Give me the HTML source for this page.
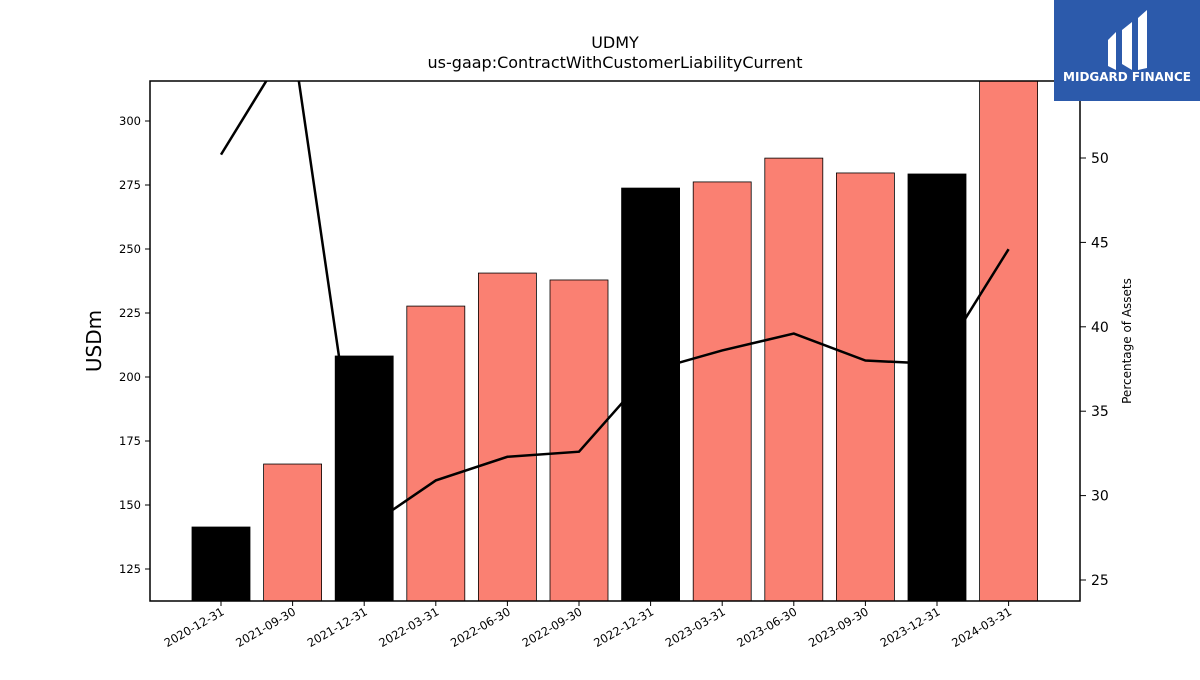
<!DOCTYPE html>
<html><head><meta charset="utf-8"><style>
body{margin:0;background:#fff;font-family:"Liberation Sans","DejaVu Sans",sans-serif}
svg text{font-family:"DejaVu Sans","Liberation Sans",sans-serif}
</style></head><body>
<svg id="chart" width="1200" height="675" xmlns="http://www.w3.org/2000/svg">
<rect width="1200" height="675" fill="#fff"/>
<text x="615" y="48" font-size="16" text-anchor="middle">UDMY</text>
<text x="615" y="68" font-size="16" text-anchor="middle">us-gaap:ContractWithCustomerLiabilityCurrent</text>
<defs><clipPath id="pc"><rect x="150" y="81" width="930" height="520"/></clipPath></defs>
<g id="bars" clip-path="url(#pc)"></g>
<g id="line" clip-path="url(#pc)"></g>
<rect x="150" y="81" width="930" height="520" fill="none" stroke="#000" stroke-width="1.5"/>
<g id="axes"></g>
<text transform="translate(101,341) rotate(-90)" font-size="20" text-anchor="middle">USDm</text>
<text transform="translate(1131,341) rotate(-90)" font-size="12" text-anchor="middle">Percentage of Assets</text>
<g>
<rect x="1054" y="0" width="146" height="101" fill="#2c5aab"/>
<path d="M1108 40 L1116 32 L1116 70 L1108 66 Z M1122 30 L1132 22 L1132 70 L1122 64 Z M1138 18 L1147 10 L1147 68 L1138 70 Z" fill="#fff"/>
<text x="1127" y="81" font-size="12" font-weight="bold" fill="#fff" text-anchor="middle">MIDGARD FINANCE</text>
</g>
</svg>
<script>
const categories=["2020-12-31","2021-09-30","2021-12-31","2022-03-31","2022-06-30","2022-09-30","2022-12-31","2023-03-31","2023-06-30","2023-09-30","2023-12-31","2024-03-31"];
const barValues=[141.4,166,208.2,227.7,240.6,237.9,273.8,276.2,285.5,279.7,279.3,320];
const pctValues=[50.2,57.1,28.0,30.9,32.3,32.6,37.4,38.6,39.6,38.0,37.8,44.6];
const leftTicks=[125,150,175,200,225,250,275,300];
const rightTicks=[25,30,35,40,45,50];
const NS="http://www.w3.org/2000/svg";
const yL=v=>569-(v-125)*2.56;
const yR=v=>158-(v-50)*16.88;
const xC=i=>221+i*71.6;
function mk(t,a,p){const e=document.createElementNS(NS,t);for(const k in a)e.setAttribute(k,a[k]);p.appendChild(e);return e;}
const bars=document.getElementById('bars'),line=document.getElementById('line'),axes=document.getElementById('axes');
categories.forEach((c,i)=>{
 const q4=c.endsWith('12-31');
 const r=mk('rect',{x:xC(i)-29,y:yL(barValues[i]),width:58,height:601-yL(barValues[i]),fill:q4?'#000':'#fa8072',stroke:'#000','stroke-width':0.8},bars);
 
 
 mk('line',{x1:xC(i),x2:xC(i),y1:601,y2:606,stroke:'#000'},axes);
 const t=mk('text',{x:xC(i)+4,y:614,'font-size':11.5,'text-anchor':'end',transform:`rotate(-30 ${xC(i)+4} 614)`},axes);
 t.textContent=c;
 
 
});
const pl=mk('polyline',{points:pctValues.map((v,i)=>xC(i)+','+yR(v)).join(' '),fill:'none',stroke:'#000','stroke-width':2.5},line);


leftTicks.forEach(v=>{
 mk('line',{x1:145,x2:150,y1:yL(v),y2:yL(v),stroke:'#000'},axes);
 const t=mk('text',{x:141,y:yL(v)+4,'font-size':11.5,'text-anchor':'end'},axes);
 t.textContent=v;
 
 
});
rightTicks.forEach(v=>{
 mk('line',{x1:1080,x2:1086,y1:yR(v),y2:yR(v),stroke:'#000'},axes);
 const t=mk('text',{x:1091,y:yR(v)+5,'font-size':14},axes);
 t.textContent=v;
 
 
});
</script>
</body></html>
